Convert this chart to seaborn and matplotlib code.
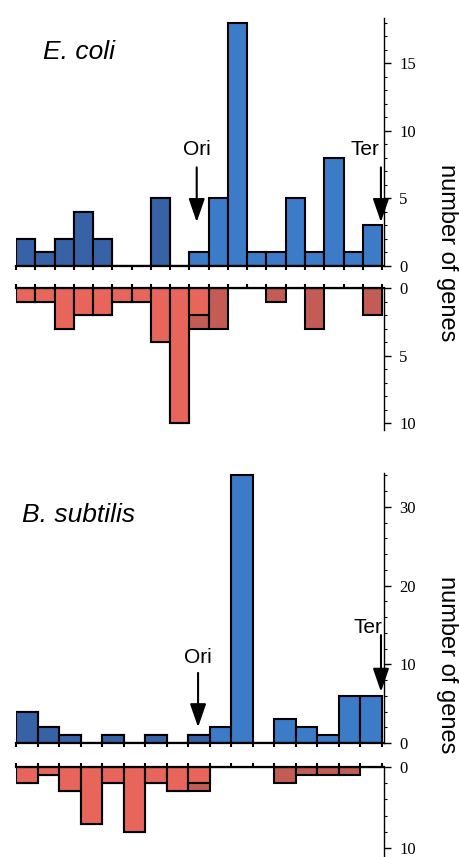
import numpy as np
import matplotlib
matplotlib.use('Agg')
import matplotlib.pyplot as plt
from matplotlib.ticker import MultipleLocator
import seaborn as sns


# ------------------------------------------------------------
# данные: число генов по сегментам генома
# left = до Ori (левая половина), right = после Ori
# ------------------------------------------------------------
ecoli_bins = list(range(19))
ecoli_up_left = [2, 1, 2, 4, 2, 0, 0, 5, 0, 0, 0, 0, 0, 0, 0, 0, 0, 0, 0]
ecoli_up_right = [0, 0, 0, 0, 0, 0, 0, 0, 0, 1, 5, 18, 1, 1, 5, 1, 8, 1, 3]
ecoli_down_left = [1, 1, 3, 2, 2, 1, 1, 4, 10, 2, 0, 0, 0, 0, 0, 0, 0, 0, 0]
ecoli_down_right = [0, 0, 0, 0, 0, 0, 0, 0, 0, 1, 3, 0, 0, 1, 0, 3, 0, 0, 2]

bsub_bins = list(range(17))
bsub_up_left = [4, 2, 1, 0, 1, 0, 1, 0, 1, 0, 0, 0, 0, 0, 0, 0, 0]
bsub_up_right = [0, 0, 0, 0, 0, 0, 0, 0, 0, 2, 34, 0, 3, 2, 1, 6, 6]
bsub_down_left = [2, 1, 3, 7, 2, 8, 2, 3, 2, 0, 0, 0, 0, 0, 0, 0, 0]
bsub_down_right = [0, 0, 0, 0, 0, 0, 0, 0, 1, 0, 0, 0, 2, 1, 1, 1, 0]

DARK_BLUE = '#3762a6'
LIGHT_BLUE = '#3b7bc8'
LIGHT_RED = '#e8655c'
DARK_RED = '#c25c55'

W, H = 460, 857

sns.set_style('white')
plt.rcParams['font.family'] = ['Liberation Sans', 'DejaVu Sans']
plt.rcParams['text.color'] = 'black'
plt.rcParams['ytick.color'] = 'black'
plt.rcParams['xtick.color'] = 'black'


def px_axes(fig, top, bottom, left=16, right=384):
    return fig.add_axes([left / W, 1 - bottom / H, (right - left) / W, (bottom - top) / H])


def draw_counts(ax, bins, left_vals, right_vals, left_color, right_color):
    # сначала сумма (верхний сегмент), поверх - нижний сегмент
    total = np.array(left_vals) + np.array(right_vals)
    kw = dict(width=1.0, edgecolor='black', linewidth=1.5, saturation=1,
              errorbar=None, order=bins, ax=ax)
    sns.barplot(x=bins, y=total, color=right_color, **kw)
    sns.barplot(x=bins, y=left_vals, color=left_color, **kw)


def style_axes(ax, n, ylim, major, minor, up=True):
    ax.set_xlim(-0.5, n - 0.4)
    ax.set_ylim(*ylim)
    for s in ['left', 'top', 'bottom', 'right']:
        ax.spines[s].set_visible(False)
    base = 'bottom' if up else 'top'
    ax.spines[base].set_visible(True)
    ax.spines[base].set_linewidth(1.6)
    ax.spines[base].set_color('black')
    ax.spines['right'].set_visible(True)
    ax.spines['right'].set_linewidth(1.0)
    ax.spines['right'].set_color('black')
    ax.set_xticks(np.arange(n + 1) - 0.5)
    ax.xaxis.set_ticks_position(base)
    ax.tick_params(axis='x', direction='out', length=3, width=1.5, color='black',
                   labelbottom=False, labeltop=False)
    ax.yaxis.tick_right()
    ax.yaxis.set_major_locator(MultipleLocator(major))
    ax.yaxis.set_minor_locator(MultipleLocator(minor))
    ax.tick_params(axis='y', which='major', direction='out', length=5, width=1,
                   pad=6, labelsize=12, labelfontfamily='Liberation Serif',
                   color='black', labelcolor='black')
    ax.tick_params(axis='y', which='minor', direction='out', length=2.5, width=0.8,
                   color='black')
    ax.set_xlabel('')
    ax.set_ylabel('')
    ax.patch.set_alpha(0)


def marker(ax, label, x, y_text, y_tail, y_tip, x_text=None):
    if x_text is None:
        x_text = x
    ax.text(x_text, y_text, label, ha='center', va='center', fontsize=15)
    ax.annotate('', xy=(x, y_tip), xytext=(x, y_tail),
                arrowprops=dict(arrowstyle='-|>,head_length=1.1,head_width=0.38',
                                mutation_scale=13, lw=1.5, color='black',
                                shrinkA=0, shrinkB=0))


fig = plt.figure(figsize=(W / 100, H / 100), dpi=100)
fig.patch.set_facecolor('white')

# E. coli
ax1 = px_axes(fig, 18, 266)
draw_counts(ax1, ecoli_bins, ecoli_up_left, ecoli_up_right, DARK_BLUE, LIGHT_BLUE)
style_axes(ax1, len(ecoli_bins), (0, 18.35), 5, 1, up=True)
marker(ax1, 'Ori', 8.88, 8.6, 7.3, 3.25)
marker(ax1, 'Ter', 18.44, 8.6, 7.3, 3.25, x_text=17.6)

ax2 = px_axes(fig, 288, 430)
draw_counts(ax2, ecoli_bins, ecoli_down_left, ecoli_down_right, LIGHT_RED, DARK_RED)
style_axes(ax2, len(ecoli_bins), (10.5, 0), 5, 1, up=False)

# B. subtilis
ax3 = px_axes(fig, 473, 743)
draw_counts(ax3, bsub_bins, bsub_up_left, bsub_up_right, DARK_BLUE, LIGHT_BLUE)
style_axes(ax3, len(bsub_bins), (0, 34.3), 10, 2, up=True)
marker(ax3, 'Ori', 7.96, 10.9, 8.9, 2.0)
marker(ax3, 'Ter', 16.46, 14.7, 13.7, 6.5, x_text=15.86)

ax4 = px_axes(fig, 767, 856)
draw_counts(ax4, bsub_bins, bsub_down_left, bsub_down_right, LIGHT_RED, DARK_RED)
style_axes(ax4, len(bsub_bins), (11, 0), 10, 2, up=False)

fig.text(43 / W, 1 - 52 / H, 'E. coli', style='italic', fontsize=19,
         ha='left', va='center')
fig.text(22 / W, 1 - 515 / H, 'B. subtilis', style='italic', fontsize=19,
         ha='left', va='center')
fig.text(447 / W, 1 - 253 / H, 'number of genes', rotation=270, fontsize=17,
         ha='center', va='center')
fig.text(447 / W, 1 - 665 / H, 'number of genes', rotation=270, fontsize=17,
         ha='center', va='center')

fig.savefig('out.png', dpi=100, facecolor='white')
